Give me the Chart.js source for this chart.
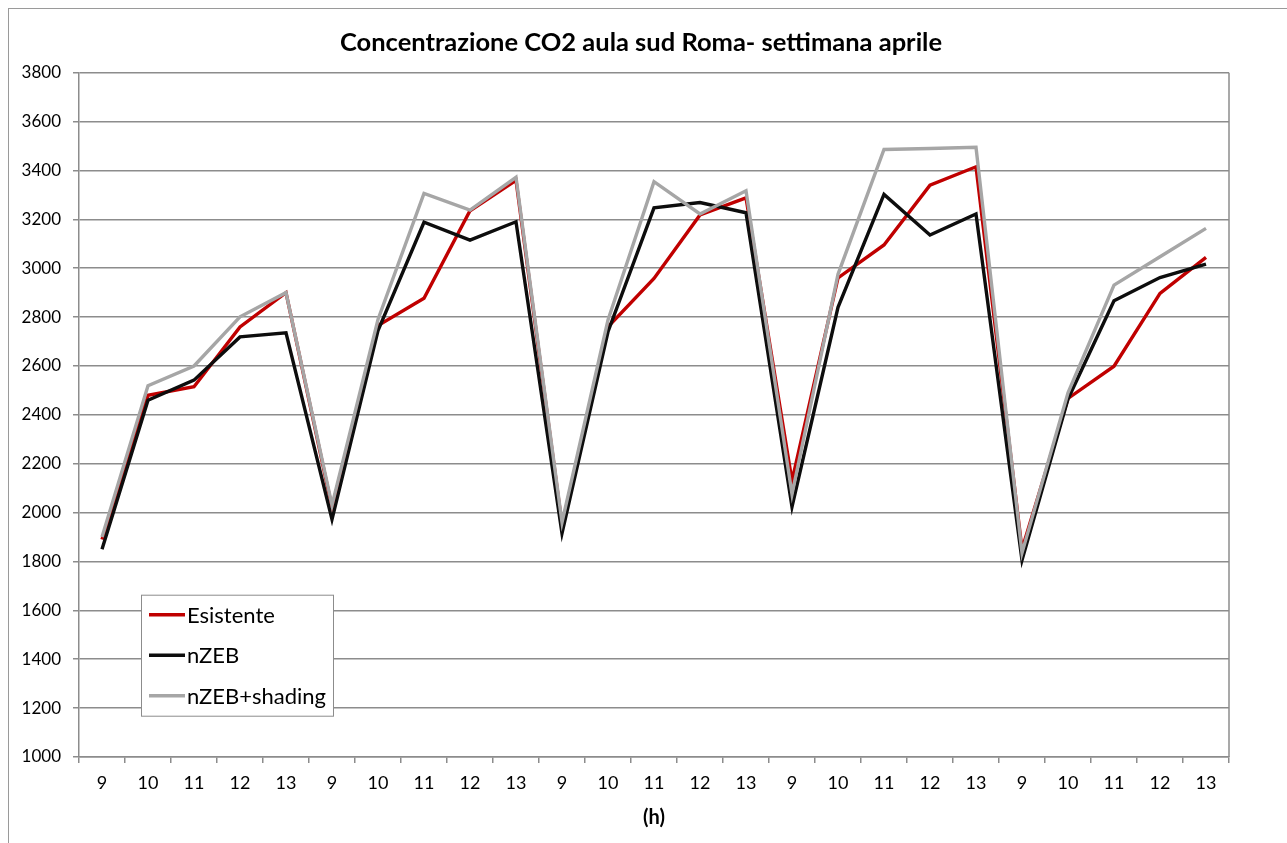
<!DOCTYPE html>
<html>
<head>
<meta charset="utf-8">
<title>Concentrazione CO2 aula sud Roma</title>
<script src="https://cdn.jsdelivr.net/npm/chart.js@4/dist/chart.umd.min.js"></script>
<style>
  html, body { margin: 0; padding: 0; background: #ffffff; }
  #wrap { width: 1287px; height: 843px; position: relative; }
</style>
</head>
<body>
<div id="wrap"><canvas id="chart" width="1287" height="843"></canvas></div>
<script>
// Hours of the school day, repeated for the five days of the week
const hourLabels = [
  '9', '10', '11', '12', '13',
  '9', '10', '11', '12', '13',
  '9', '10', '11', '12', '13',
  '9', '10', '11', '12', '13',
  '9', '10', '11', '12', '13'
];

// CO2 concentration (ppm)
const esistente = [
  1890, 2480, 2515, 2760, 2900,
  2020, 2765, 2877, 3235, 3360,
  1950, 2760, 2958, 3218, 3288,
  2130, 2960, 3095, 3340, 3415,
  1850, 2467, 2599, 2897, 3044
];
const nzeb = [
  1850, 2460, 2542, 2719, 2736,
  1972, 2745, 3188, 3115, 3190,
  1915, 2740, 3247, 3269, 3227,
  2024, 2840, 3302, 3136, 3222,
  1805, 2465, 2867, 2962, 3017
];
const nzebShading = [
  1900, 2519, 2600, 2801, 2900,
  2030, 2790, 3306, 3238, 3372,
  1960, 2788, 3354, 3222, 3317,
  2075, 2975, 3486, 3490, 3495,
  1835, 2490, 2931, 3047, 3163
];

const chartTitle = 'Concentrazione CO2 aula sud Roma- settimana aprile';
const seriesNames = ['Esistente', 'nZEB', 'nZEB+shading'];
const seriesColors = ['#C00000', '#0D0D0D', '#A6A6A6'];

const FONT = 'Lato, "Open Sans", "Liberation Sans", sans-serif';
const GRID = '#8C8C8C';

// Outer frame, chart title and the right edge of the plot area
const framePlugin = {
  id: 'frames',
  beforeDraw(chart) {
    const ctx = chart.ctx;
    ctx.save();
    ctx.fillStyle = '#ffffff';
    ctx.fillRect(0, 0, chart.width, chart.height);
    ctx.strokeStyle = '#9A9A9A';
    ctx.lineWidth = 1;
    ctx.strokeRect(8.5, 8.5, chart.width + 20, chart.height + 20);
    ctx.fillStyle = '#000000';
    ctx.font = 'bold 25.5px ' + FONT;
    ctx.textAlign = 'center';
    ctx.textBaseline = 'middle';
    ctx.fillText(chartTitle, 641, 43);
    ctx.restore();
  },
  afterDatasetsDraw(chart) {
    const a = chart.chartArea;
    const ctx = chart.ctx;
    ctx.save();
    ctx.strokeStyle = GRID;
    ctx.lineWidth = 1.5;
    ctx.beginPath();
    ctx.moveTo(a.right, a.top);
    ctx.lineTo(a.right, a.bottom);
    ctx.stroke();
    ctx.restore();
  }
};

// Boxed legend drawn inside the plot area, lower left
const boxLegendPlugin = {
  id: 'boxLegend',
  afterDraw(chart) {
    const a = chart.chartArea;
    const ctx = chart.ctx;
    const x0 = a.left + 62, y0 = a.top + 522, w = 192, h = 121;
    ctx.save();
    ctx.fillStyle = '#ffffff';
    ctx.fillRect(x0, y0, w, h);
    ctx.strokeStyle = '#8C8C8C';
    ctx.lineWidth = 1;
    ctx.strokeRect(x0 + 0.5, y0 + 0.5, w, h);
    ctx.font = '22px ' + FONT;
    ctx.textBaseline = 'middle';
    chart.data.datasets.forEach((ds, i) => {
      const cy = y0 + 20 + i * 40.5;
      ctx.strokeStyle = ds.borderColor;
      ctx.lineWidth = 3.5;
      ctx.beginPath();
      ctx.moveTo(x0 + 8, cy);
      ctx.lineTo(x0 + 44, cy);
      ctx.stroke();
      ctx.fillStyle = '#000000';
      ctx.fillText(ds.label, x0 + 46, cy + 1);
    });
    ctx.restore();
  }
};

new Chart(document.getElementById('chart'), {
  type: 'line',
  data: {
    labels: hourLabels,
    datasets: [
      { label: seriesNames[0], data: esistente, borderColor: seriesColors[0], order: 3 },
      { label: seriesNames[1], data: nzeb, borderColor: seriesColors[1], order: 2 },
      { label: seriesNames[2], data: nzebShading, borderColor: seriesColors[2], order: 1 }
    ]
  },
  options: {
    responsive: false,
    animation: false,
    devicePixelRatio: 1,
    layout: { padding: { left: 8, right: 58, top: 72.7, bottom: 0 } },
    elements: {
      line: { borderWidth: 3.4, tension: 0, borderJoinStyle: 'miter', fill: false },
      point: { radius: 0, hoverRadius: 0 }
    },
    plugins: {
      legend: { display: false },
      tooltip: { enabled: false },
      title: { display: false }
    },
    scales: {
      x: {
        offset: true,
        grid: {
          offset: true,
          drawOnChartArea: false,
          drawTicks: true,
          tickLength: 6,
          color: GRID,
          lineWidth: 1.5
        },
        border: { display: true, color: GRID, width: 1.5 },
        ticks: {
          color: '#000000',
          font: { family: FONT, size: 18 },
          padding: 9,
          maxRotation: 0,
          autoSkip: false
        },
        title: {
          display: true,
          text: '(h)',
          color: '#000000',
          font: { family: FONT, size: 20, weight: 'bold' },
          padding: { top: 0, bottom: 13 }
        },
        afterFit(scale) { scale.height = 86; }
      },
      y: {
        min: 1000,
        max: 3800,
        grid: {
          color: GRID,
          lineWidth: 1.5,
          drawTicks: true,
          tickLength: 6
        },
        border: { display: true, color: GRID, width: 1.5 },
        ticks: {
          stepSize: 200,
          color: '#000000',
          font: { family: FONT, size: 17 },
          padding: 12,
          callback: (value) => String(value)
        },
        afterFit(scale) { scale.width = 71; }
      }
    }
  },
  plugins: [framePlugin, boxLegendPlugin]
});
</script>
</body>
</html>
